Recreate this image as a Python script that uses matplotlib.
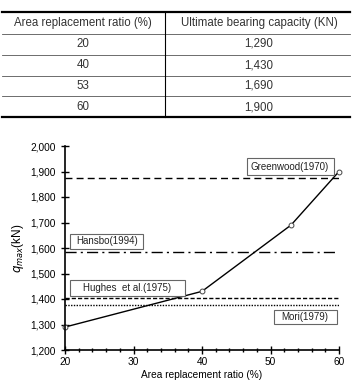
import matplotlib.pyplot as plt
import numpy as np
from matplotlib.patches import Rectangle
from matplotlib.ticker import MultipleLocator, FuncFormatter

plt.rcParams["font.family"] = ["Liberation Sans", "DejaVu Sans"]

ratio = [20, 40, 53, 60]
capacity = [1290, 1430, 1690, 1900]
col_labels = ["Area replacement ratio (%)", "Ultimate bearing capacity (KN)"]

ref_names = ["Greenwood(1970)", "Hansbo(1994)", "Hughes  et al.(1975)", "Mori(1979)"]
ref_values = [1875, 1583, 1405, 1376]
ref_styles = [(0, (5, 3)), (0, (8, 3, 1.5, 3)), (0, (3, 1.5)), (0, (1, 1))]

W, H = 352, 384
fig = plt.figure(figsize=(W / 100, H / 100), dpi=100)

# table
tab = fig.add_axes([0, 0, 1, 1])
tab.set_xlim(0, W)
tab.set_ylim(H, 0)
tab.axis("off")
tab.plot([2, 350], [12, 12], color="black", lw=1.6)
tab.plot([2, 350], [117, 117], color="black", lw=1.6)
row_y = [23, 44, 65, 86, 107]
for yb in [34, 55, 76, 96]:
    tab.plot([2, 350], [yb, yb], color="#555555", lw=0.6)
tab.plot([165, 165], [12, 117], color="black", lw=0.8)
tab.text(83, row_y[0], col_labels[0], ha="center", va="center", fontsize=8.3, color="#333333")
tab.text(259, row_y[0], col_labels[1], ha="center", va="center", fontsize=8.3, color="#333333")
for i, (r, c) in enumerate(zip(ratio, capacity)):
    tab.text(83, row_y[i + 1], str(r), ha="center", va="center", fontsize=8.3, color="#333333")
    tab.text(259, row_y[i + 1], f"{c:,}", ha="center", va="center", fontsize=8.3, color="#333333")

# chart
ax = fig.add_axes([65 / W, 1 - 350 / H, (339 - 65) / W, (350 - 146) / H])
for v, ls in zip(ref_values, ref_styles):
    ax.plot([20, 60], [v, v], color="black", lw=1.0, linestyle=ls)
ax.plot(ratio, capacity, color="black", lw=1.0, marker="o", ms=3.5,
        mfc="white", mec="#444444", mew=0.7, clip_on=False)

ax.set_xlim(20, 60)
ax.set_ylim(1200, 2000)
ax.xaxis.set_major_locator(MultipleLocator(10))
ax.xaxis.set_minor_locator(MultipleLocator(2))
ax.yaxis.set_major_locator(MultipleLocator(100))
ax.yaxis.set_major_formatter(FuncFormatter(lambda v, p: f"{int(v):,}"))
ax.tick_params(which="major", direction="inout", length=6, width=1, labelsize=7.3, color="black")
ax.tick_params(which="minor", direction="inout", length=3, width=1)
ax.tick_params(axis="x", pad=2)
for s in ["top", "right"]:
    ax.spines[s].set_visible(False)
for s in ["left", "bottom"]:
    ax.spines[s].set_linewidth(1.2)
ax.set_xlabel("Area replacement ratio (%)", fontsize=7.3, labelpad=2)
ax.set_ylabel(r"$q_{max}$(kN)", fontsize=8.5, labelpad=3)

# label boxes (pixel coordinates)
ov = fig.add_axes([0, 0, 1, 1])
ov.set_xlim(0, W)
ov.set_ylim(H, 0)
ov.axis("off")
boxes = [(247, 158, 87, 17), (70, 234, 73, 15), (70, 280, 115, 16), (274, 310, 63, 14)]
text_x = [290, 107, 127, 305]
for name, (bx, by, bw, bh), tx in zip(ref_names, boxes, text_x):
    ov.add_patch(Rectangle((bx, by), bw, bh, fc="white", ec="#666666", lw=0.8))
    ov.text(tx, by + bh / 2, name, fontsize=7, ha="center", va="center", color="#222222")

fig.savefig("out.png", dpi=100)
